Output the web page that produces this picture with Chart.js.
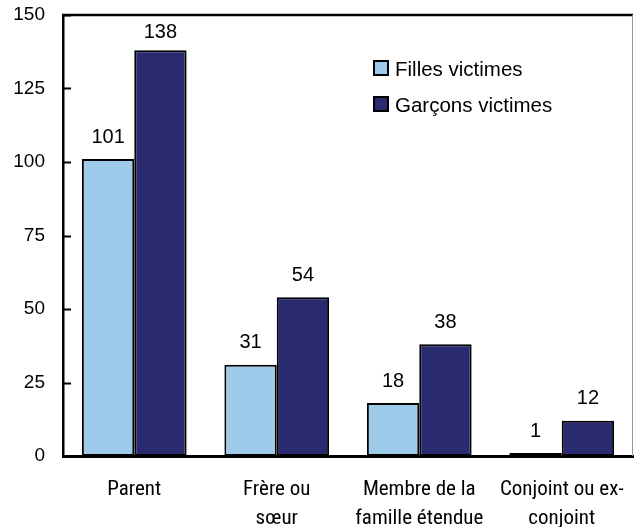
<!DOCTYPE html>
<html>
<head>
<meta charset="utf-8">
<script src="https://cdn.jsdelivr.net/npm/chart.js@4.4.1/dist/chart.umd.min.js"></script>
<style>
  html, body { margin: 0; padding: 0; background: #fff; }
  #wrap { width: 635px; height: 527px; }
</style>
</head>
<body>
<div id="wrap"><canvas id="victimChart" width="635" height="527"></canvas></div>
<script>
// data
const categories = [
  ["Parent"],
  ["Frère ou", "sœur"],
  ["Membre de la", "famille étendue"],
  ["Conjoint ou ex-", "conjoint"]
];
const seriesNames = ["Filles victimes", "Garçons victimes"];
const filles = [101, 31, 18, 1];
const garcons = [138, 54, 38, 12];
const yTicks = [0, 25, 50, 75, 100, 125, 150];

const colFilles = "#9fcbea";
const colGarcons = "#2a2a70";
const labelFont = "20px 'Liberation Sans', Arial, sans-serif";

// value labels, inner ticks, frame and legend
const extras = {
  id: "extras",
  afterDatasetsDraw(chart) {
    const ctx = chart.ctx;
    const area = chart.chartArea;
    const yScale = chart.scales.y;

    ctx.save();
    ctx.font = labelFont;
    ctx.fillStyle = "#000";
    ctx.textAlign = "center";
    ctx.textBaseline = "middle";
    chart.data.datasets.forEach((ds, i) => {
      chart.getDatasetMeta(i).data.forEach((bar, j) => {
        // keep the tallest label clear of the top frame
        const y = Math.max(bar.y - 22, area.top + 17);
        ctx.fillText(String(ds.data[j]), bar.x, y);
      });
    });

    // tick marks pointing into the plot
    ctx.strokeStyle = "#000";
    ctx.lineWidth = 2;
    yTicks.forEach(v => {
      const y = Math.round(yScale.getPixelForValue(v)) + 0.5;
      ctx.beginPath();
      ctx.moveTo(area.left, y);
      ctx.lineTo(area.left + 8, y);
      ctx.stroke();
    });

    // top and right frame
    ctx.lineWidth = 2.5;
    ctx.beginPath();
    ctx.moveTo(area.left - 1, area.top);
    ctx.lineTo(area.right, area.top);
    ctx.stroke();
    ctx.strokeStyle = "#999";
    ctx.lineWidth = 1;
    ctx.beginPath();
    ctx.moveTo(area.right - 0.5, area.top);
    ctx.lineTo(area.right - 0.5, area.bottom);
    ctx.stroke();

    // legend
    const lx = 374, ly = [68, 104];
    ctx.textAlign = "left";
    ctx.font = "20.5px 'Liberation Sans', Arial, sans-serif";
    chart.data.datasets.forEach((ds, i) => {
      ctx.fillStyle = ds.backgroundColor;
      ctx.fillRect(lx, ly[i] - 7, 14, 14);
      ctx.strokeStyle = "#000";
      ctx.lineWidth = 2;
      ctx.strokeRect(lx, ly[i] - 7, 14, 14);
      ctx.fillStyle = "#000";
      ctx.fillText(ds.label, 395, ly[i] + 2);
    });
    ctx.restore();
  }
};

new Chart(document.getElementById("victimChart"), {
  type: "bar",
  data: {
    labels: categories,
    datasets: [
      {
        label: seriesNames[0],
        data: filles,
        backgroundColor: colFilles,
        borderColor: "#000",
        borderWidth: 2,
        borderSkipped: false
      },
      {
        label: seriesNames[1],
        data: garcons,
        backgroundColor: colGarcons,
        borderColor: "#000",
        borderWidth: 2,
        borderSkipped: false
      }
    ]
  },
  options: {
    responsive: false,
    animation: false,
    layout: { padding: { top: 15, right: 2, left: 0, bottom: 0 } },
    datasets: {
      bar: { categoryPercentage: 0.735, barPercentage: 1.0 }
    },
    plugins: {
      legend: { display: false },
      tooltip: { enabled: false }
    },
    scales: {
      x: {
        grid: { display: false, drawTicks: false },
        border: { display: true, color: "#000", width: 3 },
        ticks: {
          color: "#000",
          padding: 20,
          maxRotation: 0,
          autoSkip: false,
          font: { family: "'Roboto Condensed', 'DejaVu Sans Condensed', sans-serif", size: 21, lineHeight: 1.35 }
        },
        afterFit(scale) {
          scale.height = 71;
          scale.paddingLeft = 0;
          scale.paddingRight = 0;
        }
      },
      y: {
        min: 0,
        max: 150,
        grid: { display: false, drawTicks: false },
        border: { display: true, color: "#000", width: 2.5 },
        afterBuildTicks(scale) { scale.ticks = yTicks.map(v => ({ value: v })); },
        ticks: {
          color: "#000",
          padding: 18,
          font: { family: "'Liberation Sans', Arial, sans-serif", size: 19 }
        },
        afterFit(scale) {
          scale.width = 63;
          scale.paddingTop = 0;
          scale.paddingBottom = 0;
        }
      }
    }
  },
  plugins: [extras]
});
</script>
</body>
</html>
